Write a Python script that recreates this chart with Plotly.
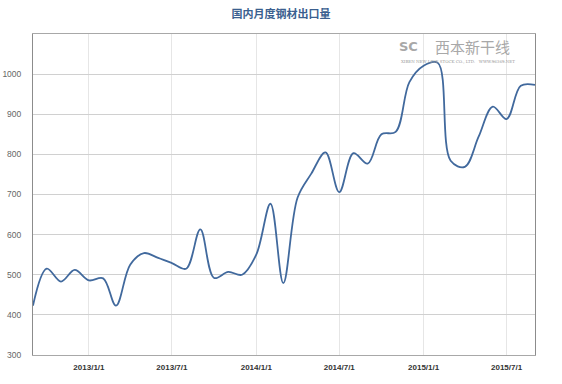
import plotly.graph_objects as go

dates = [
    "2012-09-01", "2012-10-01", "2012-11-01", "2012-12-01",
    "2013-01-01", "2013-02-01", "2013-03-01", "2013-04-01", "2013-05-01", "2013-06-01",
    "2013-07-01", "2013-08-01", "2013-09-01", "2013-10-01", "2013-11-01", "2013-12-01",
    "2014-01-01", "2014-02-01", "2014-03-01", "2014-04-01", "2014-05-01", "2014-06-01",
    "2014-07-01", "2014-08-01", "2014-09-01", "2014-10-01", "2014-11-01", "2014-12-01",
    "2015-01-01", "2015-02-01", "2015-03-01", "2015-04-01", "2015-05-01", "2015-06-01",
    "2015-07-01", "2015-08-01", "2015-09-01",
]
values = [
    423, 515, 483, 512,
    486, 491, 423, 525, 554, 542,
    529, 515, 613, 492, 507, 500,
    550, 677, 479, 692, 752, 805,
    706, 803, 777, 850, 856, 980,
    1021, 1028, 784, 769, 844, 919,
    888, 971, 973,
]
x_tick_vals = ["2013-01-01", "2013-07-01", "2014-01-01", "2014-07-01", "2015-01-01", "2015-07-01"]
x_tick_text = ["<b>2013/1/1</b>", "<b>2013/7/1</b>", "<b>2014/1/1</b>",
               "<b>2014/7/1</b>", "<b>2015/1/1</b>", "<b>2015/7/1</b>"]
y_tick_vals = [300, 400, 500, 600, 700, 800, 900, 1000]

title_text = "国内月度钢材出口量"
logo_text = "西本新干线"
logo_sub = "XIBEN NEW LINE STOCK CO., LTD.   WWW.96369.NET"

W, H = 562, 384

fig = go.Figure()
fig.add_trace(go.Scatter(
    x=dates, y=values, mode="lines",
    line=dict(color="#41699d", width=1.8, shape="spline", smoothing=1.0),
    hoverinfo="x+y",
))

fig.update_layout(
    width=W, height=H,
    margin=dict(l=33, r=27, t=34, b=29),
    paper_bgcolor="white", plot_bgcolor="white",
    showlegend=False,
    title=dict(text="<b>" + title_text + "</b>", x=0.5, xanchor="center", y=1 - 14 / H, yanchor="middle",
               font=dict(family="Noto Sans CJK SC", size=11, color="#3b5f8f")),
    xaxis=dict(
        type="date", range=["2012-09-01", "2015-09-01"], automargin=False,
        tickmode="array", tickvals=x_tick_vals, ticktext=x_tick_text,
        showgrid=True, gridcolor="#e6e6e6", gridwidth=1,
        showline=True, linecolor="#a8a8a8", linewidth=1, mirror=True,
        ticks="outside", ticklen=4, tickcolor="rgba(0,0,0,0)",
        tickfont=dict(family="Liberation Sans", size=8, color="#333333"),
        zeroline=False,
    ),
    yaxis=dict(
        range=[300, 1100], automargin=False,
        tickmode="array", tickvals=y_tick_vals,
        showgrid=True, gridcolor="#d0d0d0", gridwidth=1,
        showline=True, linecolor="#8c8c8c", linewidth=1, mirror=True,
        ticks="outside", ticklen=9, tickcolor="rgba(0,0,0,0)",
        tickfont=dict(family="Liberation Sans", size=8.5, color="#666666"),
        zeroline=False,
    ),
)

fig.add_annotation(
    text=logo_text, xref="paper", yref="paper",
    x=(472 - 33) / 502, y=(355 - 46) / 321, xanchor="center", yanchor="middle",
    showarrow=False, font=dict(family="Noto Sans CJK SC", size=15, color="#a8a8a8"),
)
fig.add_annotation(
    text="<b>SC</b>", xref="paper", yref="paper",
    x=(408 - 33) / 502, y=(355 - 46) / 321, xanchor="center", yanchor="middle",
    showarrow=False, font=dict(family="DejaVu Sans", size=13, color="#a8a8a8"),
)
fig.add_annotation(
    text=logo_sub, xref="paper", yref="paper",
    x=(458 - 33) / 502, y=(355 - 61) / 321, xanchor="center", yanchor="middle",
    showarrow=False, font=dict(family="DejaVu Serif", size=4, color="#999999"),
)

fig.write_html("out.html", config={"displayModeBar": False},
               post_script="document.body.style.margin='0';")
